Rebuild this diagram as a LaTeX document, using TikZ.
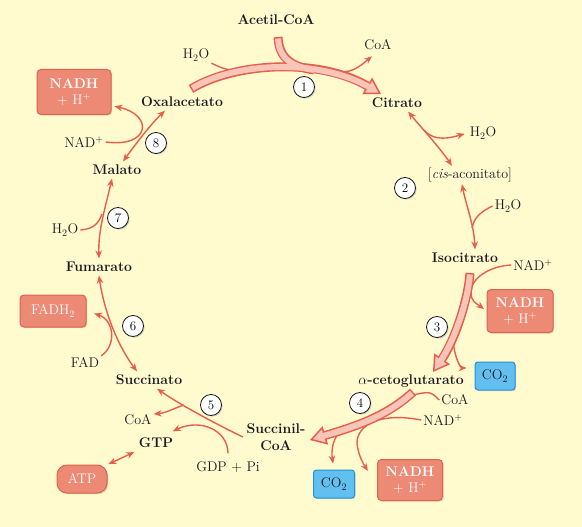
\documentclass[tikz,border=0pt]{standalone}
\usepackage{tikz}
\usetikzlibrary{arrows.meta,shadows}
\definecolor{bgcream}{RGB}{255,251,206}
\definecolor{rxnred}{RGB}{232,94,76}
\definecolor{bandpink}{RGB}{248,198,184}
\definecolor{boxsalmon}{RGB}{236,138,117}
\definecolor{boxedge}{RGB}{222,98,78}
\definecolor{co2blue}{RGB}{98,192,240}
\definecolor{co2edge}{RGB}{32,146,214}
\definecolor{ink}{RGB}{25,25,35}

\begin{document}
\begin{tikzpicture}[x=1pt, y=-1pt,
  cmpd/.style={font=\bfseries\fontsize{14}{17}\selectfont, text=ink, inner sep=3.5pt},
  side/.style={font=\fontsize{14}{17}\selectfont, text=ink, inner sep=2pt},
  softshadow/.style={drop shadow={shadow xshift=1.2pt, shadow yshift=-1.2pt, opacity=0.3}},
  stepno/.style={circle, draw=ink, line width=0.8pt, fill=white, minimum size=21pt,
    inner sep=0pt, font=\fontsize{13}{13}\selectfont, softshadow},
  nadh/.style={rectangle, rounded corners=4pt, draw=boxedge, line width=1pt, fill=boxsalmon,
    text=white, align=center, font=\fontsize{14}{16}\selectfont, minimum width=66pt,
    minimum height=43pt, inner sep=2pt, softshadow},
  co2/.style={rectangle, rounded corners=3pt, draw=co2edge, line width=1pt, fill=co2blue,
    text=ink, font=\fontsize{14}{16}\selectfont, minimum width=40pt, minimum height=28pt,
    inner sep=1pt, softshadow},
  rx/.style={draw=rxnred, line width=1.4pt},
  fwd/.style={rx, -{Stealth[length=8pt,width=6.5pt]}},
  both/.style={rx, {Stealth[length=8pt,width=6.5pt]}-{Stealth[length=8pt,width=6.5pt]}},
  bandrim/.style={draw=rxnred, line width=9pt},
  bandin/.style={draw=bandpink, line width=6pt},
  bandtip/.style={-{Triangle[length=16pt,width=19pt,fill=bandpink,line width=1.5pt]}}
]
  \useasboundingbox (0,0) rectangle (582,527);
  \fill[bgcream] (0,0) rectangle (582,527);

  % compounds of the cycle
  \node[cmpd] (acetil) at (276,20) {Acetil-CoA};
  \node[cmpd] (citrato) at (397,103) {Citrato};
  \node[side] (cis) at (470,175) {[\textit{cis}-aconitato]};
  \node[cmpd] (isocit) at (465,258) {Isocitrato};
  \node[cmpd] (akg) at (411,381) {$\alpha$-cetoglutarato};
  \node[cmpd, align=center] (succoa) at (276,437) {Succinil-\\CoA};
  \node[cmpd] (succinato) at (149,380) {Succinato};
  \node[cmpd] (fumarato) at (99,267) {Fumarato};
  \node[cmpd] (malato) at (117,170) {Malato};
  \node[cmpd] (oxal) at (182,102) {Oxalacetato};
  \node[cmpd] (gtp) at (156,443) {GTP};

  % what goes in and out
  \node[side] (h2oA) at (196,55) {H$_2$O};
  \node[side] (coaA) at (378,45) {CoA};
  \node[side] (h2oB) at (483,133) {H$_2$O};
  \node[side] (h2oC) at (508,206) {H$_2$O};
  \node[side] (nadC) at (533,265) {NAD\textsuperscript{+}};
  \node[side] (coaD) at (455,400) {CoA};
  \node[side] (nadD) at (443,420) {NAD\textsuperscript{+}};
  \node[side] (gdp) at (228,467) {GDP + Pi};
  \node[side] (coaE) at (138,420) {CoA};
  \node[side] (fad) at (85,363) {FAD};
  \node[side] (h2oG) at (65,230) {H$_2$O};
  \node[side] (nadA) at (84,142) {NAD\textsuperscript{+}};

  % products in boxes
  \node[nadh, minimum width=74pt, minimum height=45pt] (nadhA) at (74,92) {\textbf{NADH}\\+ H\textsuperscript{+}};
  \node[nadh] (nadhC) at (520,311) {\textbf{NADH}\\+ H\textsuperscript{+}};
  \node[nadh, minimum width=65pt, minimum height=41pt] (nadhD) at (410,480) {\textbf{NADH}\\+ H\textsuperscript{+}};
  \node[nadh, minimum height=32pt] (fadh) at (53,311) {FADH$_2$};
  \node[nadh, rounded corners=10pt, minimum width=50pt, minimum height=28pt] (atp) at (82,479) {ATP};
  \node[co2] (co2C) at (495,376) {CO$_2$};
  \node[co2, minimum width=41pt] (co2D) at (334,484) {CO$_2$};

  % step numbers
  \node[stepno] (n1) at (304,87) {1};
  \node[stepno] (n2) at (405,188) {2};
  \node[stepno] (n3) at (437,327) {3};
  \node[stepno] (n4) at (360,403) {4};
  \node[stepno] (n5) at (211,405) {5};
  \node[stepno] (n6) at (133,326) {6};
  \node[stepno] (n7) at (118,218) {7};
  \node[stepno] (n8) at (156,143) {8};

  % ends of the wide arrows
  \coordinate (acs) at (278,37);
  \coordinate (acm) at (314,70);
  \coordinate (b1s) at (191,89);
  \coordinate (b1e) at (381,94);
  \coordinate (b3s) at (470,273);
  \coordinate (b3e) at (433,372);
  \coordinate (b4s) at (413,392);
  \coordinate (b4e) at (310,440);
  % where thin lines meet the wide arrows
  \coordinate (w1) at (250,71);
  \coordinate (c1) at (332,70);
  \coordinate (c3) at (453,340);
  \coordinate (d4) at (409,396);
  \coordinate (c4) at (342,430);

  % thin lines that run under the wide arrows
  \draw[rx] (h2oA.south east) .. controls (226,70) .. (w1);
  \draw[fwd] (c1) .. controls (350,76) and (360,66) .. ([xshift=-6pt,yshift=-4pt]coaA.south);
  \draw[fwd, shorten >=3pt] (nadC.west) .. controls (490,266) and (471,278) .. (471,292)
    .. controls (471,302) and (476,303) .. (nadhC.west);
  \draw[fwd, shorten >=8pt] (c3) .. controls (455,362) and (462,368) .. ([yshift=8pt]co2C.west);
  \draw[rx] (coaD.west) .. controls (430,391) .. (d4);
  \draw[fwd] (nadD.west) .. controls (380,412) and (357,425) .. (357,443)
    .. controls (358,455) and (364,465) .. ([xshift=-9pt,yshift=-12pt]nadhD.north west);
  \draw[fwd, shorten >=6pt] (c4) .. controls (333,437) and (331,450) .. (co2D.north);

  % wide arrows: red rim first, then the pale inside
  \draw[bandrim] (acs) .. controls (279,60) and (294,67) .. (acm);
  \draw[bandrim, bandtip] (b1s) .. controls (235,62) and (320,58) .. (b1e);
  \draw[bandrim, bandtip] (b3s) .. controls (468,300) and (455,340) .. (b3e);
  \draw[bandrim, bandtip] (b4s) .. controls (385,418) and (350,428) .. (b4e);
  \draw[bandin, shorten <=1.5pt] (acs) .. controls (279,60) and (294,67) .. (acm);
  \draw[bandin, shorten <=1.5pt, shorten >=12pt] (b1s) .. controls (235,62) and (320,58) .. (b1e);
  \draw[bandin, shorten <=1.5pt, shorten >=12pt] (b3s) .. controls (468,300) and (455,340) .. (b3e);
  \draw[bandin, shorten <=1.5pt, shorten >=12pt] (b4s) .. controls (385,418) and (350,428) .. (b4e);

  % step 2
  \draw[both] (citrato.-38) .. controls (420,126) and (440,148) .. (cis.153);
  \coordinate (b2a) at (424,130);
  \draw[fwd, shorten >=3pt] (b2a) .. controls (434,142) and (450,138) .. (h2oB.west);
  \draw[both] ([xshift=-8pt]cis.south) .. controls (466,205) and (474,225) .. ([xshift=10pt]isocit.north);
  \coordinate (b2b) at (472,228);
  \draw[rx] (h2oC.west) .. controls (480,212) and (474,218) .. (b2b);

  % step 5
  \draw[fwd] (succoa.west) .. controls (220,426) and (182,406) .. ([xshift=8pt]succinato.south);
  \coordinate (b5a) at (184,405);
  \draw[fwd] (b5a) .. controls (172,409) and (166,413) .. ([yshift=6pt]coaE.east);
  \draw[fwd] ([yshift=6pt]gdp.north) .. controls (228,430) and (200,418) .. ([xshift=-4pt,yshift=3pt]gtp.north east);
  \draw[both, shorten <=1pt, shorten >=1pt] (gtp.south west) -- (atp.north east);

  % step 6
  \draw[both] (fumarato.south) .. controls (103,305) and (115,342) .. ([xshift=-12pt]succinato.north);
  \draw[fwd, shorten >=8pt] (fad.north east) .. controls (117,345) and (114,320) .. (fadh.east);

  % step 7
  \draw[both] ([xshift=-5pt]malato.south) .. controls (106,205) and (98,230) .. (fumarato.north);
  \coordinate (b7) at (102,214);
  \draw[rx] (h2oG.east) .. controls (95,229) and (99,222) .. (b7);

  % step 8
  \draw[both] ([xshift=6pt]malato.north) .. controls (135,145) and (150,125) .. ([xshift=-17pt]oxal.south);
  \draw[fwd, shorten >=3pt] (nadA.east) .. controls (150,148) and (154,115) .. (nadhA.-20);
\end{tikzpicture}
\end{document}
